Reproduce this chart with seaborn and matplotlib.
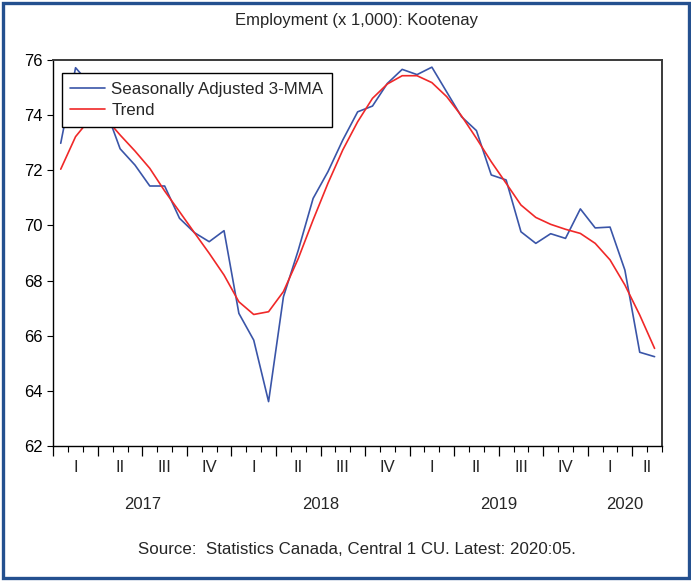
import numpy as np
import pandas as pd
import matplotlib
matplotlib.use("Agg")
import matplotlib.pyplot as plt
import matplotlib.transforms as mtransforms
from matplotlib.patches import Rectangle
from matplotlib.ticker import FixedLocator, NullFormatter
import seaborn as sns

# Monthly series, 2017:01 .. 2020:05 (thousands of persons)
months = pd.period_range("2017-01", "2020-05", freq="M")

sa_3mma = [72.98, 75.72, 75.10, 74.25, 72.78, 72.19, 71.43, 71.43, 70.26, 69.74,
           69.41, 69.81, 66.81, 65.84, 63.61, 67.41, 69.10, 70.98, 71.95, 73.10,
           74.12, 74.33, 75.15, 75.66, 75.47, 75.74, 74.84, 73.94, 73.44, 71.83,
           71.65, 69.77, 69.35, 69.70, 69.53, 70.60, 69.91, 69.94, 68.38, 65.40,
           65.24]

trend = [72.04, 73.22, 73.88, 73.90, 73.28, 72.70, 72.07, 71.25, 70.50, 69.74,
         68.99, 68.20, 67.23, 66.77, 66.87, 67.60, 68.80, 70.20, 71.53, 72.74,
         73.76, 74.61, 75.13, 75.43, 75.43, 75.18, 74.67, 73.97, 73.16, 72.31,
         71.53, 70.74, 70.29, 70.04, 69.86, 69.71, 69.35, 68.75, 67.84, 66.75,
         65.54]

series_names = ["Seasonally Adjusted 3-MMA", "Trend"]
series_colors = ["#3A55A8", "#F02828"]
quarter_labels = ["I", "II", "III", "IV"]
y_ticks = [62, 64, 66, 68, 70, 72, 74, 76]

title = "Employment (x 1,000): Kootenay"
source = "Source:  Statistics Canada, Central 1 CU. Latest: 2020:05."

sns.set_style("white")
plt.rcParams["font.family"] = ["Liberation Sans", "DejaVu Sans"]
plt.rcParams["font.size"] = 12

W, H = 691, 581
fig = plt.figure(figsize=(W / 100, H / 100), dpi=100)
fig.patch.set_facecolor("white")

# plot area in pixels: x 53..662, y 60..446
ax = fig.add_axes([53.3 / W, 1 - 446 / H, (662 - 53.3) / W, 386 / H])

idx = np.arange(len(months))
df = pd.DataFrame({
    "idx": np.concatenate([idx, idx]),
    "value": np.array(sa_3mma + trend),
    "series": [series_names[0]] * len(idx) + [series_names[1]] * len(idx),
})

sns.lineplot(data=df, x="idx", y="value", hue="series",
             hue_order=series_names,
             palette=dict(zip(series_names, series_colors)),
             linewidth=1.2, ax=ax)

ax.set_xlim(-0.5, len(idx) - 0.5)
ax.set_ylim(62, 76)
ax.set_xlabel("")
ax.set_ylabel("")

# y axis
ax.set_yticks(y_ticks)
ax.set_yticklabels([str(v) for v in y_ticks])
ax.tick_params(axis="y", direction="out", length=4.5, width=0.8, pad=3,
               labelsize=12, left=True, colors="black")

# x axis: month boundaries (minor) and quarter boundaries (major)
month_edges = np.arange(-0.5, len(idx), 1.0)
quarter_edges = [i - 0.5 for i, m in enumerate(months) if m.month in (1, 4, 7, 10)]
ax.xaxis.set_major_locator(FixedLocator(quarter_edges))
ax.xaxis.set_minor_locator(FixedLocator(month_edges))
ax.xaxis.set_major_formatter(NullFormatter())
ax.tick_params(axis="x", which="major", direction="out", length=7, width=0.9,
               bottom=True, colors="black")
ax.tick_params(axis="x", which="minor", direction="out", length=4, width=0.8,
               bottom=True, colors="black")

for side in ["left", "bottom"]:
    ax.spines[side].set_color("black")
    ax.spines[side].set_linewidth(1.0)
for side in ["top", "right"]:
    ax.spines[side].set_color("#3a3a3a")
    ax.spines[side].set_linewidth(1.4)

# quarter and year labels under the axis
trans = mtransforms.blended_transform_factory(ax.transData, ax.transAxes)
q_keys = pd.Series(idx).groupby([m.year * 10 + m.quarter for m in months])
for key, grp in q_keys:
    q = key % 10
    ax.text(grp.mean(), -0.055, quarter_labels[q - 1], transform=trans,
            ha="center", va="center", fontsize=12)
y_keys = pd.Series(idx).groupby([m.year for m in months])
for year, grp in y_keys:
    ax.text(grp.mean(), -0.152, str(year), transform=trans,
            ha="center", va="center", fontsize=12)

# legend
leg = ax.legend(loc="upper left", bbox_to_anchor=(0.0143, 0.966),
                borderaxespad=0, frameon=True, fancybox=False,
                edgecolor="black", framealpha=1, fontsize=12.2,
                handlelength=2.06, handletextpad=0.36, labelspacing=0.4,
                borderpad=0.5, title=None)
leg.get_frame().set_linewidth(1.0)
for line in leg.get_lines():
    line.set_linewidth(1.2)

fig.text(356.5 / W, 1 - 20 / H, title, ha="center", va="center", fontsize=12)
fig.text(356.5 / W, 1 - 549 / H, source, ha="center", va="center", fontsize=12.2)

# outer frame
fig.patches.append(Rectangle((2.5 / W, 3.5 / H), (688.5 - 2.5) / W, (578.5 - 3.5) / H,
                             transform=fig.transFigure, fill=False,
                             edgecolor="#24508F", linewidth=2.4))

fig.savefig("out.png", dpi=100, facecolor="white")
